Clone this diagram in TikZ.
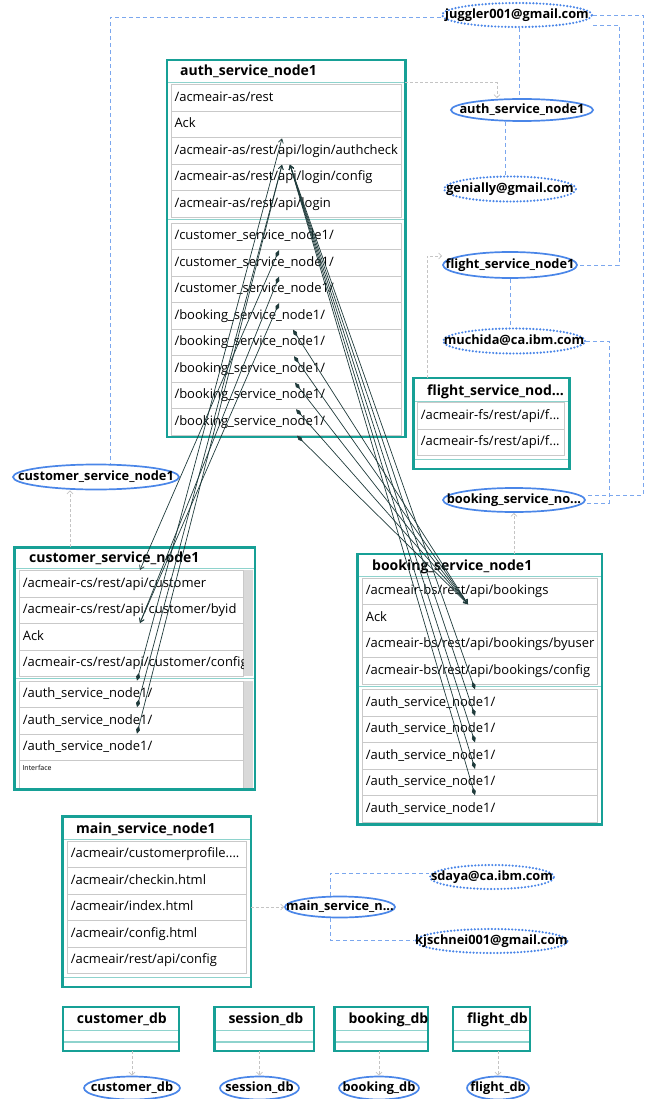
\documentclass[tikz,border=0pt]{standalone}
\usepackage{fontspec}
\setmainfont{Open Sans}
\usetikzlibrary{arrows.meta,shapes.geometric}

\definecolor{entteal}{HTML}{17A096}
\definecolor{septeal}{HTML}{8ED3CD}
\definecolor{rowgray}{HTML}{C9C9C9}
\definecolor{barfill}{HTML}{D9D9D9}
\definecolor{ellblue}{HTML}{4A86E8}
\definecolor{linkblue}{HTML}{7BA7EE}
\definecolor{depgray}{HTML}{C4C4C4}
\definecolor{callink}{HTML}{1F3B3B}

\newcommand{\rowfont}{\fontsize{13}{15}\selectfont}
\newcommand{\entfont}{\fontsize{14}{16}\selectfont\bfseries}
\newcommand{\ellfont}{\fontsize{12.8}{14}\selectfont\bfseries}
\newcommand{\profilepage}{/acmeair/customerprofile....}
% label that may run past the ellipse without widening it
\newcommand{\elltext}[1]{\makebox[0pt]{#1}}

\tikzset{
  entbox/.style={draw=entteal, line width=2.4pt, fill=white, anchor=north west,
    inner sep=0pt, outer sep=0pt},
  enttitle/.style={anchor=base west, inner sep=0pt, font=\entfont},
  rowbox/.style={draw=rowgray, line width=1pt, fill=white, anchor=north west,
    minimum height=26.5pt, inner xsep=3pt, inner ysep=0pt, text width=#1,
    align=left, font=\rowfont, text height=10pt, text depth=3.5pt},
  sepline/.style={draw=septeal, line width=1.5pt},
  svc/.style={ellipse, draw=ellblue, line width=1.7pt, fill=white, inner sep=0pt,
    font=\ellfont, text height=9.4pt, text depth=3pt},
  owner/.style={ellipse, draw=ellblue, line width=2.4pt, dash pattern=on 0pt off 3.4pt,
    line cap=round, fill=white, inner sep=0pt, font=\ellfont,
    text height=9.4pt, text depth=3pt},
  ownlink/.style={draw=linkblue, line width=0.8pt, dash pattern=on 4pt off 3pt},
  deploy/.style={draw=depgray, line width=0.8pt, dash pattern=on 3pt off 2pt,
    -{Straight Barb[length=3pt,width=6pt]}},
  call/.style={draw=callink, line width=0.7pt,
    {Diamond[length=8pt,width=4pt]}-{Straight Barb[length=4pt,width=5pt]}},
}

\begin{document}
\begin{tikzpicture}[x=1pt,y=-1pt]
\useasboundingbox (0,0) rectangle (649,1099);

% ---------------- auth_service_node1 ----------------
\node[entbox, minimum width=238.6pt, minimum height=376.5pt] (auth) at (166.7,60.3) {};
\node[enttitle] (auth-title) at (180,76) {auth\_service\_node1};
\draw[sepline] (168,82.5) -- (404,82.5);
\draw[sepline] (168,219.7) -- (404,219.7);
\foreach \txt [count=\i] in {/acmeair-as/rest, Ack,
    /acmeair-as/rest/api/login/authcheck, /acmeair-as/rest/api/login/config,
    /acmeair-as/rest/api/login}
  \node[rowbox=223.7pt] (auth-r\i) at (171,{84.3+(\i-1)*26.5}) {\mbox{\txt}};
\foreach \i in {1,2,3}
  \node[rowbox=223.7pt] (auth-c\i) at (171,{222.7+(\i-1)*26.5}) {/customer\_service\_node1/};
\foreach \i in {1,...,5}
  \node[rowbox=223.7pt] (auth-b\i) at (171,{302.2+(\i-1)*26.5}) {/booking\_service\_node1/};

% ---------------- customer_service_node1 ----------------
\node[entbox, minimum width=240.1pt, minimum height=242.2pt] (cust) at (14.6,547.3) {};
\node[enttitle] (cust-title) at (29,562) {customer\_service\_node1};
\draw[sepline] (16,568.5) -- (253.5,568.5);
\draw[sepline] (16,678.3) -- (253.5,678.3);
\foreach \txt [count=\i] in {/acmeair-cs/rest/api/customer,
    /acmeair-cs/rest/api/customer/byid, Ack, /acmeair-cs/rest/api/customer/config}
  \node[rowbox=218pt] (cust-r\i) at (19.3,{570+(\i-1)*26.5}) {\mbox{\txt}};
\foreach \i in {1,2,3}
  \node[rowbox=218pt] (cust-a\i) at (19.3,{680.7+(\i-1)*26.5}) {/auth\_service\_node1/};
\node[rowbox=218pt, minimum height=27.8pt] (cust-if) at (19.3,760.2) {};
\node[anchor=north west, inner sep=0pt, font=\fontsize{7}{8}\selectfont]
  (cust-if-label) at ([xshift=3pt,yshift=-5pt]cust-if.north west) {Interface};
\fill[barfill] (244,570) rectangle (253.4,676);
\fill[barfill] (244,680.7) rectangle (253.4,788);
\draw[draw=entteal, line width=2.4pt] (cust.north west) rectangle (cust.south east);

% ---------------- flight_service_node1 ----------------
\node[entbox, minimum width=156.2pt, minimum height=90.8pt] (flight) at (413.3,378) {};
\node[enttitle] (flight-title) at (427,395) {flight\_service\_nod...};
\draw[sepline] (414.5,401.3) -- (568.3,401.3);
\foreach \i in {1,2}
  \node[rowbox=141pt] (flight-r\i) at (417.3,{402.3+(\i-1)*26.5}) {/acmeair-fs/rest/api/f...};
\draw[sepline] (414.5,459.3) -- (568.3,459.3);

% ---------------- booking_service_node1 ----------------
\node[entbox, minimum width=244.7pt, minimum height=270.5pt] (book) at (357.3,554) {};
\node[enttitle] (book-title) at (372,570) {booking\_service\_node1};
\draw[sepline] (358.5,576.5) -- (600.8,576.5);
\draw[sepline] (358.5,686.7) -- (600.8,686.7);
\foreach \txt [count=\i] in {/acmeair-bs/rest/api/bookings, Ack,
    /acmeair-bs/rest/api/bookings/byuser, /acmeair-bs/rest/api/bookings/config}
  \node[rowbox=228.4pt] (book-r\i) at (362.3,{577.7+(\i-1)*26.5}) {\mbox{\txt}};
\foreach \i in {1,...,5}
  \node[rowbox=228.4pt] (book-a\i) at (362.3,{689.3+(\i-1)*26.5}) {/auth\_service\_node1/};

% ---------------- main_service_node1 ----------------
\node[entbox, minimum width=188.2pt, minimum height=170.7pt] (mainsvc) at (62.6,816.3) {};
\node[enttitle] (mainsvc-title) at (76,833) {main\_service\_node1};
\draw[sepline] (63.8,839.5) -- (249.6,839.5);
\foreach \txt [count=\i] in {\profilepage, /acmeair/checkin.html,
    /acmeair/index.html, /acmeair/config.html, /acmeair/rest/api/config}
  \node[rowbox=172.4pt] (mainsvc-r\i) at (67.3,{840.7+(\i-1)*26.5}) {\mbox{\txt}};
\draw[sepline] (63.8,977.3) -- (249.6,977.3);

% ---------------- databases ----------------
\foreach \nm/\x/\w/\lbl in {cdb/62.7/116/customer\_db, sdb/214.3/99.4/session\_db,
    bdb/334.3/93.9/booking\_db, fdb/453/76.7/flight\_db} {
  \node[entbox, minimum width=\w pt, minimum height=44pt] (\nm) at (\x,1007) {};
  \node[enttitle] (\nm-title) at (\x+14,1023.5) {\lbl};
  \draw[sepline] (\x+1.2,1030.3) -- (\x+\w-1.2,1030.3);
  \draw[sepline, line width=2pt] (\x+1.2,1041.7) -- (\x+\w-1.2,1041.7);
}

% ---------------- service and owner ellipses ----------------
\node[owner, minimum width=150pt, minimum height=24pt] (juggler) at (517,15) {\elltext{juggler001@gmail.com}};
\node[svc, minimum width=142pt, minimum height=22pt] (authE) at (522,110) {\elltext{auth\_service\_node1}};
\node[owner, minimum width=132pt, minimum height=25pt] (genially) at (510,189) {\elltext{genially@gmail.com}};
\node[svc, minimum width=134pt, minimum height=26pt] (flightE) at (510,265) {\elltext{flight\_service\_node1}};
\node[owner, minimum width=142pt, minimum height=25pt] (muchida) at (514,341) {\elltext{muchida@ca.ibm.com}};
\node[svc, minimum width=166pt, minimum height=25pt] (custE) at (96,477) {\elltext{customer\_service\_node1}};
\node[svc, minimum width=142pt, minimum height=24pt] (bookE) at (514,500) {\elltext{booking\_service\_no...}};
\node[svc, minimum width=110pt, minimum height=21pt] (mainE) at (340,907) {\elltext{main\_service\_n...}};
\node[owner, minimum width=124pt, minimum height=24pt] (sdaya) at (492,877) {\elltext{sdaya@ca.ibm.com}};
\node[owner, minimum width=152pt, minimum height=24pt] (kj) at (491.5,941) {\elltext{kjschnei001@gmail.com}};
\node[svc, minimum width=96pt, minimum height=23pt] (cdbE) at (132,1088) {\elltext{customer\_db}};
\node[svc, minimum width=79pt, minimum height=23pt] (sdbE) at (259.5,1088) {\elltext{session\_db}};
\node[svc, minimum width=80pt, minimum height=23pt] (bdbE) at (379,1088) {\elltext{booking\_db}};
\node[svc, minimum width=62pt, minimum height=23pt] (fdbE) at (498,1088) {\elltext{flight\_db}};

% ---------------- ownership links ----------------
\draw[ownlink] ([xshift=2pt]juggler.south) -- ([xshift=2pt]juggler.south |- authE.north);
\draw[ownlink] ([yshift=-2pt]juggler.west) -| ([xshift=14pt]custE.north);
\draw[ownlink] ([yshift=-10pt]juggler.east) -- ++(26,0) |- (flightE.east);
\draw[ownlink] (juggler.east) -- ++(50,0) |- ([yshift=5pt]bookE.east);
\draw[ownlink] ([xshift=-5pt]authE.south -| genially.north) -- ([xshift=-5pt]genially.north);
\draw[ownlink] (flightE.south) -- (flightE.south |- muchida.north);
\draw[ownlink] (muchida.east) -- ++(23,0) |- ([yshift=-3pt]bookE.east);
\draw[ownlink] ([xshift=-10pt]mainE.north) |- ([yshift=4pt]sdaya.west);
\draw[ownlink] ([xshift=-10pt]mainE.south) |- ([yshift=1pt]kj.west);

% ---------------- deployment links ----------------
\draw[deploy] ([yshift=-22pt]auth.north east) -| ([xshift=-25pt]authE.north);
\draw[deploy] ([xshift=14pt]flight.north west) |- ([yshift=9pt]flightE.west);
\draw[deploy] ([xshift=-26pt]custE.south |- cust.north) -- ([xshift=-26pt]custE.south);
\draw[deploy] (bookE.south |- book.north) -- (bookE.south);
\draw[deploy] (mainsvc.east |- mainE.west) -- (mainE.west);
\draw[deploy] (cdbE.north |- cdb.south) -- (cdbE.north);
\draw[deploy] (sdbE.north |- sdb.south) -- (sdbE.north);
\draw[deploy] (bdbE.north |- bdb.south) -- (bdbE.north);
\draw[deploy] (fdbE.north |- fdb.south) -- (fdbE.north);

% ---------------- call connectors ----------------
\foreach \i in {1,2,3} {
  \coordinate (cs\i) at ([xshift=108pt]auth-c\i.south west);
  \coordinate (cc\i) at ([xshift=117.7pt]cust-a\i.north west);
}
\coordinate (ct1) at ([xshift=120.7pt]cust-r1.north west);
\coordinate (ct2) at ([xshift=120.7pt]cust-r3.north west);
\coordinate (at1) at ([xshift=111pt]auth-r2.south west);
\coordinate (at2) at ([xshift=111pt]auth-r3.south west);
\coordinate (at3) at ([xshift=119pt]auth-r3.south west);
\coordinate (bt) at ([xshift=105.7pt]book-r2.north west);
\foreach \i in {1,...,5} {
  \coordinate (bs\i) at ([xshift={(121+\i)*1pt}]auth-b\i.south west);
  \coordinate (bc\i) at ([xshift=112.7pt]book-a\i.north west);
}
\draw[call] (cs1) -- (ct1);
\draw[call] (cs2) -- (ct2);
\draw[call] (cs3) -- (ct2);
\draw[call] (cc1) -- (at1);
\draw[call] (cc2) -- (at2);
\draw[call] (cc3) -- (at2);
\foreach \i in {1,...,5} {
  \draw[call] (bs\i) -- (bt);
  \draw[call] (bc\i) -- (at3);
}
\end{tikzpicture}
\end{document}
